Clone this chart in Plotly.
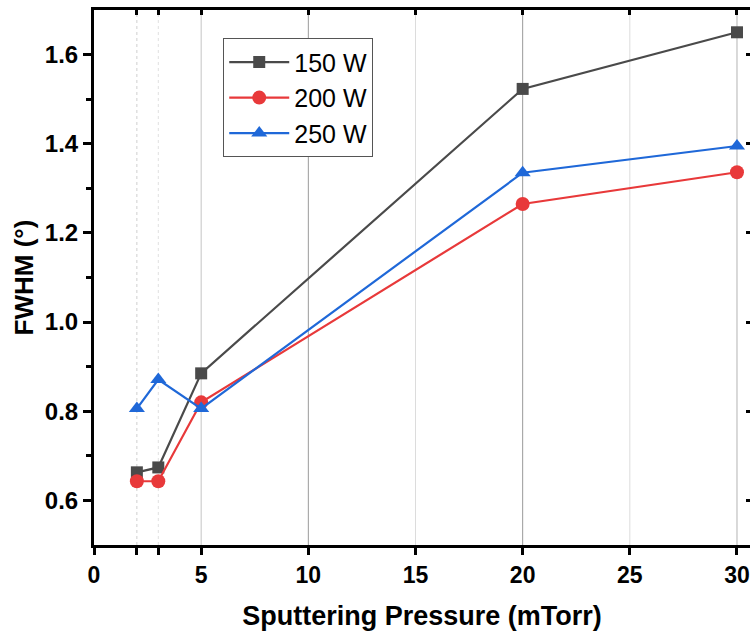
import plotly.graph_objects as go

pressure = [2, 3, 5, 20, 30]
fwhm_150 = [0.663, 0.674, 0.885, 1.523, 1.650]
fwhm_200 = [0.643, 0.643, 0.820, 1.265, 1.336]
fwhm_250 = [0.806, 0.871, 0.806, 1.335, 1.395]
series_names = ["150 W", "200 W", "250 W"]
colors = ["#4a4a4a", "#e8393a", "#1f68d8"]
symbols = ["square", "circle", "triangle-up"]

x_tickvals = [0, 2, 3, 5, 10, 15, 20, 25, 30]
x_ticktext = ["0", "", "", "5", "10", "15", "20", "25", "30"]
y_tickvals = [0.6, 0.8, 1.0, 1.2, 1.4, 1.6]
y_ticktext = ["0.6", "0.8", "1.0", "1.2", "1.4", "1.6"]

XR = [0, 30.607]
YR = [0.5, 1.7]

fig = go.Figure()
for name, ys, c, s in zip(series_names, [fwhm_150, fwhm_200, fwhm_250], colors, symbols):
    fig.add_trace(go.Scatter(
        x=pressure, y=ys, name=name, mode="lines+markers",
        line=dict(color=c, width=2.2),
        marker=dict(color=c, symbol=s, size=14 if s != "square" else 12),
        cliponaxis=False,
    ))

# vertical grid / drop lines
grid_styles = {2: ("#cfcfcf", "3px,3px"), 3: ("#e0e0e0", "3px,3px"), 5: ("#c4c4c4", "solid"),
               10: ("#9a9a9a", "solid"), 15: ("#dcdcdc", "solid"), 20: ("#9a9a9a", "solid"),
               25: ("#dcdcdc", "solid"), 30: ("#b4b4b4", "solid")}
for xv, (col, dash) in grid_styles.items():
    fig.add_shape(type="line", xref="x", yref="paper", x0=xv, x1=xv, y0=0, y1=1,
                  line=dict(color=col, width=1, dash=dash), layer="below")

fam = "Arial, Liberation Sans, sans-serif"

fig.update_layout(
    width=750, height=632,
    margin=dict(l=94, r=0, t=10, b=87),
    paper_bgcolor="white", plot_bgcolor="white",
    font=dict(family=fam, color="black"),
    showlegend=True,
    legend=dict(x=0.197, y=0.947, xanchor="left", yanchor="top",
                bordercolor="#555555", borderwidth=1, bgcolor="white",
                font=dict(family=fam, size=25, color="black"),
                itemwidth=60, tracegroupgap=0),
    xaxis=dict(range=XR, tickvals=x_tickvals, ticktext=x_ticktext,
               ticks="outside", ticklen=7, tickwidth=2.5, tickcolor="black",
               showline=True, linecolor="black", linewidth=3,
               showgrid=False, zeroline=False,
               tickfont=dict(family=fam, size=23, color="black", weight="bold"),
               title=dict(text="<b>Sputtering Pressure (mTorr)</b>", standoff=20,
                          font=dict(family=fam, size=27, color="black"))),
    xaxis2=dict(range=XR, overlaying="x", side="top", tickvals=x_tickvals,
                showticklabels=False, ticks="inside", ticklen=5, tickwidth=2.5, tickcolor="black",
                showline=True, linecolor="black", linewidth=3, showgrid=False, zeroline=False,
                matches="x"),
    yaxis=dict(range=YR, tickvals=y_tickvals, ticktext=y_ticktext,
               ticks="outside", ticklen=8, tickwidth=2.5, tickcolor="black",
               showline=True, linecolor="black", linewidth=3,
               showgrid=False, zeroline=False,
               minor=dict(tickvals=[0.7, 0.9, 1.1, 1.3, 1.5], ticks="outside", ticklen=5,
                          tickwidth=2.5, tickcolor="black", showgrid=False),
               tickfont=dict(family=fam, size=24, color="black", weight="bold"),
               title=dict(text="<b>FWHM (°)</b>", standoff=4,
                          font=dict(family=fam, size=26, color="black"))),
    yaxis2=dict(range=YR, overlaying="y", side="right", tickvals=y_tickvals,
                showticklabels=False, ticks="inside", ticklen=4, tickwidth=2.5, tickcolor="black",
                showline=False, showgrid=False, zeroline=False, matches="y"),
)
# invisible trace to activate top/right axes
fig.add_trace(go.Scatter(x=[None], y=[None], xaxis="x2", yaxis="y2", showlegend=False, hoverinfo="skip"))

fig.write_html("out.html")
